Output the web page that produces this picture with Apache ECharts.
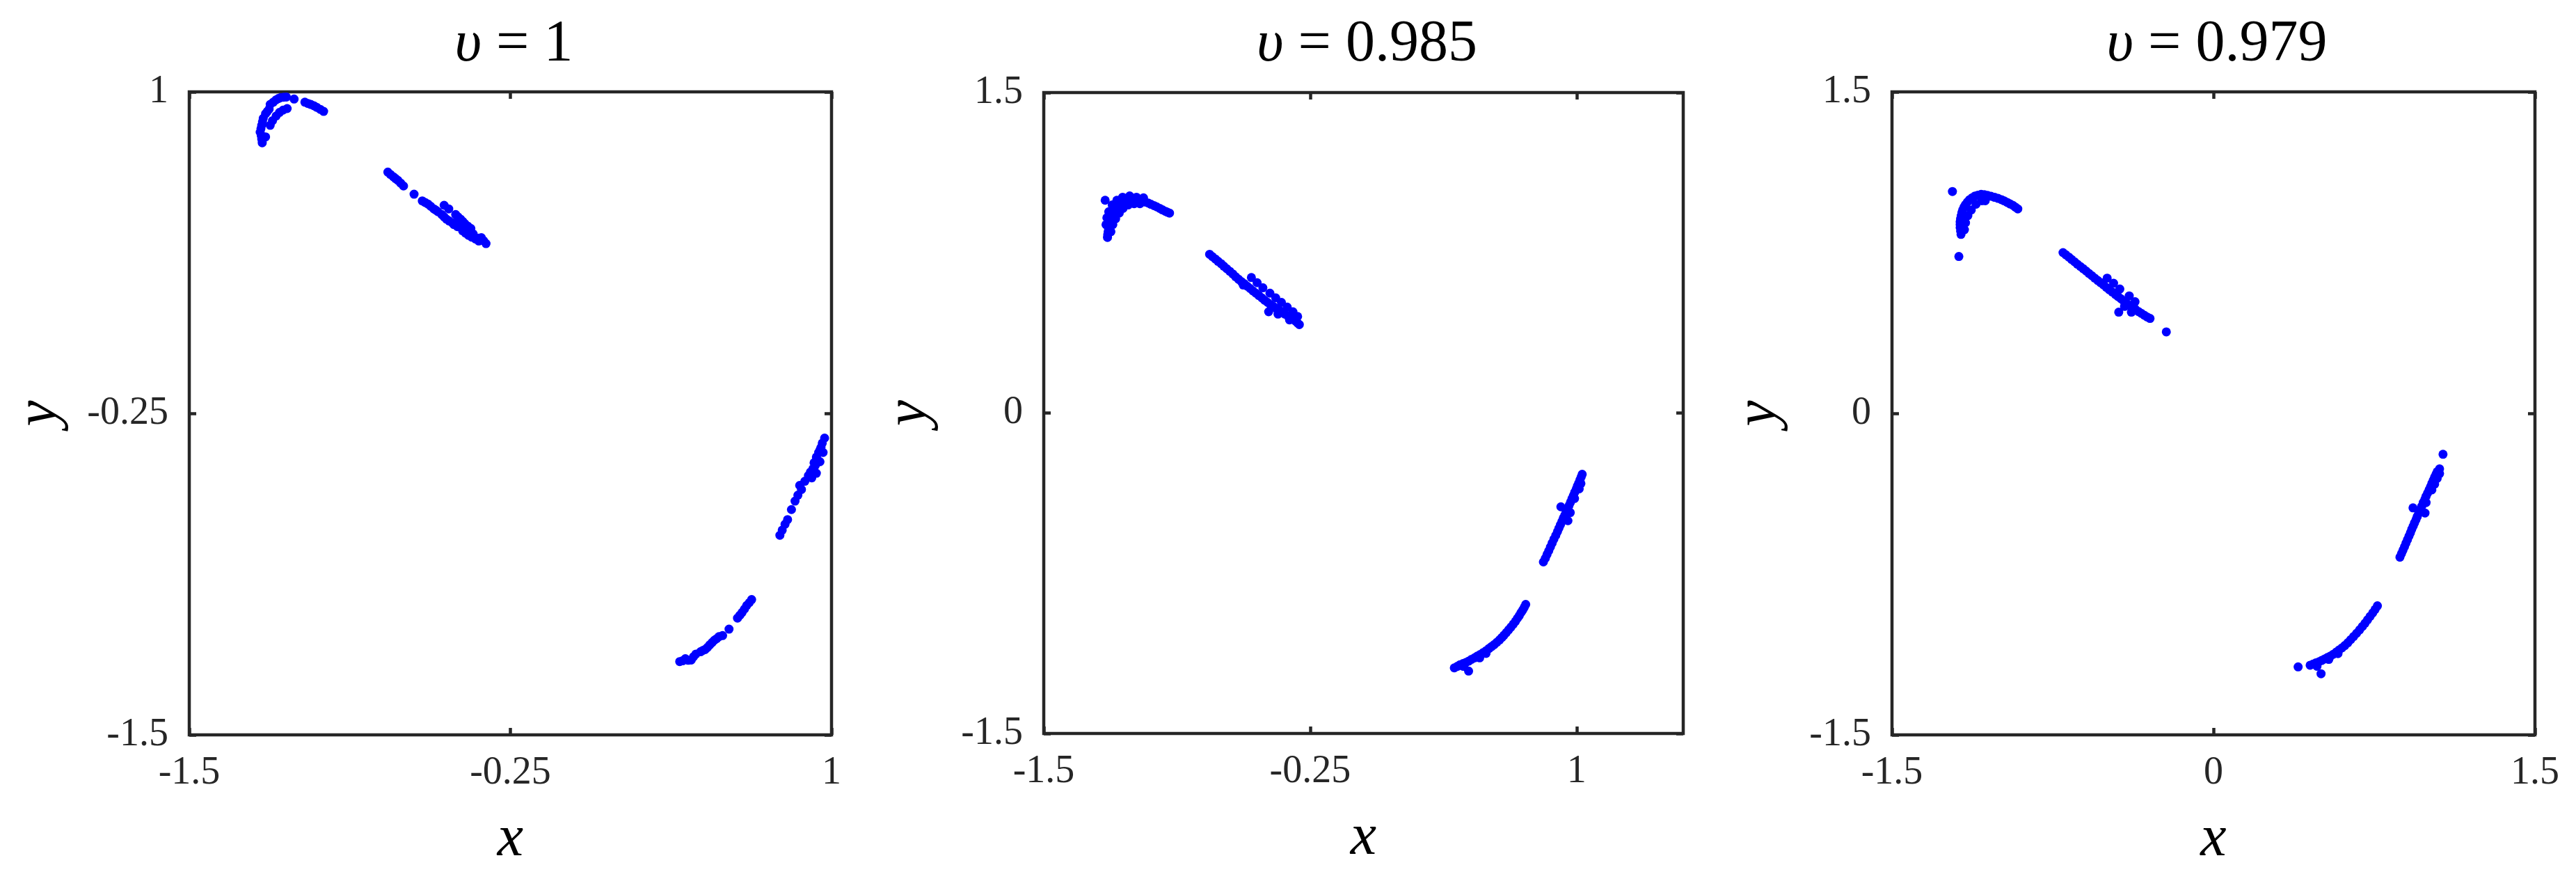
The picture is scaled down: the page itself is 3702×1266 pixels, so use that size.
<!DOCTYPE html>
<html>
<head>
<meta charset="utf-8">
<script src="https://cdn.jsdelivr.net/npm/echarts@6/dist/echarts.min.js"></script>
<style>
  html, body { margin: 0; background: #fff; }
  #chart { width: 3702px; height: 1266px; }
</style>
</head>
<body>
<div id="chart"></div>
<script>
// panel titles (upsilon values)
const titles = ['1', '0.985', '0.979']

// axis ranges and tick values per panel
const p1XTicks = [-1.5, -0.25, 1]
const p1YTicks = [-1.5, -0.25, 1]
const p2XTicks = [-1.5, -0.25, 1]
const p2YTicks = [-1.5, 0, 1.5]
const p3XTicks = [-1.5, 0, 1.5]
const p3YTicks = [-1.5, 0, 1.5]
const xRanges = [[-1.5, 1], [-1.5, 1.5], [-1.5, 1.5]]
const yRanges = [[-1.5, 1], [-1.5, 1.5], [-1.5, 1.5]]

// v = 1
const p1Cap = [
  [-1.216, 0.802], [-1.218, 0.816], [-1.220, 0.830], [-1.224, 0.843], [-1.221, 0.857], [-1.218, 0.870],
  [-1.215, 0.884], [-1.212, 0.897], [-1.203, 0.915], [-1.196, 0.924], [-1.189, 0.933], [-1.185, 0.951],
  [-1.173, 0.960], [-1.162, 0.969], [-1.153, 0.974], [-1.144, 0.978], [-1.133, 0.979], [-1.122, 0.980],
  [-1.092, 0.972], [-1.050, 0.960], [-1.038, 0.955], [-1.027, 0.951], [-1.015, 0.946], [-1.004, 0.940],
  [-0.990, 0.932], [-0.977, 0.924], [-1.203, 0.825],
  [-1.185, 0.870], [-1.176, 0.888], [-1.162, 0.906], [-1.149, 0.920], [-1.135, 0.929], [-1.119, 0.935]
]
const p1Bar = [
  [-0.727, 0.688], [-0.717, 0.679], [-0.706, 0.670], [-0.697, 0.663], [-0.688, 0.656], [-0.677, 0.645],
  [-0.666, 0.634], [-0.625, 0.602], [-0.593, 0.576], [-0.582, 0.570], [-0.571, 0.564], [-0.560, 0.555],
  [-0.548, 0.545], [-0.540, 0.540], [-0.532, 0.534], [-0.508, 0.559], [-0.490, 0.545], [-0.517, 0.523],
  [-0.508, 0.514], [-0.499, 0.505], [-0.488, 0.498], [-0.476, 0.491], [-0.470, 0.484], [-0.456, 0.476],
  [-0.463, 0.523], [-0.454, 0.514], [-0.444, 0.505], [-0.435, 0.496], [-0.427, 0.487], [-0.416, 0.478],
  [-0.404, 0.469], [-0.436, 0.460], [-0.425, 0.451], [-0.413, 0.442], [-0.400, 0.435], [-0.395, 0.448],
  [-0.386, 0.428], [-0.374, 0.431], [-0.373, 0.420], [-0.363, 0.433], [-0.354, 0.421], [-0.345, 0.410]
]
const p1Low = [
  [0.409, -1.215], [0.420, -1.212], [0.431, -1.204], [0.442, -1.210], [0.454, -1.209], [0.463, -1.196],
  [0.472, -1.186], [0.490, -1.177], [0.499, -1.172], [0.508, -1.168], [0.517, -1.160], [0.526, -1.150],
  [0.535, -1.141], [0.544, -1.132], [0.553, -1.126], [0.562, -1.118], [0.576, -1.114], [0.601, -1.089],
  [0.634, -1.046], [0.643, -1.035], [0.652, -1.024], [0.661, -1.011], [0.670, -0.997], [0.680, -0.986],
  [0.689, -0.974]
]
const p1Up = [
  [0.799, -0.724], [0.808, -0.704], [0.819, -0.681], [0.829, -0.663], [0.844, -0.624], [0.858, -0.591],
  [0.869, -0.568], [0.876, -0.530], [0.883, -0.546], [0.896, -0.514], [0.910, -0.492], [0.918, -0.478],
  [0.923, -0.501], [0.928, -0.465], [0.932, -0.442], [0.937, -0.452], [0.941, -0.483], [0.941, -0.420],
  [0.945, -0.430], [0.950, -0.402], [0.955, -0.438], [0.955, -0.392], [0.959, -0.383], [0.964, -0.366],
  [0.967, -0.402], [0.973, -0.346]
]

// v = 0.985
const p2Cap = [
  [-1.212, 0.996],
  [-1.201, 0.822], [-1.200, 0.836], [-1.198, 0.849], [-1.196, 0.863], [-1.193, 0.876], [-1.190, 0.890],
  [-1.187, 0.904], [-1.182, 0.918], [-1.176, 0.931], [-1.170, 0.945], [-1.163, 0.958], [-1.155, 0.969],
  [-1.146, 0.980], [-1.136, 0.988], [-1.125, 0.996], [-1.111, 1.001], [-1.097, 1.005], [-1.084, 1.003],
  [-1.070, 1.001], [-1.057, 0.997], [-1.043, 0.993], [-1.027, 0.988], [-1.010, 0.983], [-0.997, 0.977],
  [-0.983, 0.971], [-0.970, 0.965], [-0.956, 0.958], [-0.943, 0.951], [-0.929, 0.944], [-0.920, 0.940],
  [-0.910, 0.936],
  [-1.185, 0.849], [-1.176, 0.882], [-1.163, 0.909], [-1.146, 0.936], [-1.128, 0.958], [-1.103, 0.974],
  [-1.076, 0.980], [-1.049, 0.980],
  [-1.208, 0.882], [-1.204, 0.914], [-1.195, 0.942], [-1.179, 0.974], [-1.157, 0.996], [-1.130, 1.010],
  [-1.097, 1.016], [-1.065, 1.010], [-1.032, 1.007]
]
const p2Bar = [
  [-0.722, 0.743], [-0.709, 0.732], [-0.695, 0.721], [-0.682, 0.710], [-0.668, 0.699], [-0.655, 0.687],
  [-0.641, 0.675], [-0.627, 0.663], [-0.613, 0.651], [-0.600, 0.638], [-0.586, 0.626], [-0.573, 0.615],
  [-0.559, 0.605], [-0.546, 0.594], [-0.532, 0.583], [-0.519, 0.572], [-0.505, 0.561], [-0.491, 0.550],
  [-0.477, 0.539], [-0.464, 0.528], [-0.450, 0.518], [-0.437, 0.508], [-0.423, 0.499], [-0.410, 0.490],
  [-0.396, 0.482], [-0.383, 0.472], [-0.369, 0.463], [-0.355, 0.455], [-0.341, 0.447], [-0.330, 0.439],
  [-0.320, 0.431], [-0.310, 0.422], [-0.301, 0.414],
  [-0.526, 0.634], [-0.499, 0.610], [-0.472, 0.586], [-0.439, 0.561], [-0.412, 0.539], [-0.385, 0.518],
  [-0.358, 0.496], [-0.331, 0.474], [-0.309, 0.452],
  [-0.445, 0.474], [-0.564, 0.599], [-0.401, 0.463], [-0.347, 0.436]
]
const p2Low = [
  [0.426, -1.193], [0.440, -1.186], [0.453, -1.178], [0.467, -1.173], [0.480, -1.168], [0.494, -1.161],
  [0.507, -1.153], [0.521, -1.146], [0.534, -1.138], [0.548, -1.130], [0.562, -1.121], [0.576, -1.112],
  [0.589, -1.102], [0.601, -1.093], [0.613, -1.084], [0.626, -1.073], [0.638, -1.062], [0.649, -1.051],
  [0.659, -1.040], [0.670, -1.028], [0.681, -1.015], [0.692, -1.002], [0.703, -0.988], [0.713, -0.975],
  [0.722, -0.961], [0.731, -0.948], [0.739, -0.934], [0.747, -0.922], [0.754, -0.910], [0.761, -0.896],
  [0.469, -1.186], [0.545, -1.146], [0.575, -1.125],
  [0.493, -1.208]
]
const p2Up = [
  [0.844, -0.697], [0.853, -0.680], [0.861, -0.662], [0.869, -0.645], [0.877, -0.627], [0.885, -0.609],
  [0.893, -0.591], [0.902, -0.573], [0.910, -0.555], [0.917, -0.539], [0.924, -0.523], [0.931, -0.508],
  [0.937, -0.493], [0.944, -0.479], [0.950, -0.464], [0.957, -0.449], [0.964, -0.434], [0.971, -0.418],
  [0.978, -0.401], [0.985, -0.386], [0.991, -0.371], [0.998, -0.356], [1.004, -0.341], [1.010, -0.328],
  [1.015, -0.314], [1.021, -0.300], [1.026, -0.287],
  [0.926, -0.439], [0.959, -0.504], [0.970, -0.466], [1.012, -0.355], [1.020, -0.330], [0.990, -0.400]
]

// v = 0.979
const p3Cap = [
  [-1.218, 1.035], [-1.188, 0.732],
  [-1.178, 0.835], [-1.180, 0.851], [-1.182, 0.867], [-1.182, 0.881], [-1.182, 0.894], [-1.180, 0.908],
  [-1.177, 0.922], [-1.174, 0.936], [-1.170, 0.949], [-1.164, 0.962], [-1.157, 0.974], [-1.148, 0.986],
  [-1.138, 0.997], [-1.126, 1.006], [-1.113, 1.014], [-1.099, 1.018], [-1.084, 1.022], [-1.069, 1.020],
  [-1.054, 1.017], [-1.038, 1.013], [-1.021, 1.008], [-1.005, 1.003], [-0.989, 0.997], [-0.976, 0.991],
  [-0.962, 0.984], [-0.949, 0.977], [-0.935, 0.970], [-0.924, 0.962], [-0.913, 0.954],
  [-1.162, 0.857], [-1.157, 0.889], [-1.146, 0.922], [-1.130, 0.949], [-1.108, 0.976], [-1.081, 0.992],
  [-1.065, 0.992]
]
const p3Bar = [
  [-0.702, 0.750], [-0.689, 0.740], [-0.675, 0.729], [-0.662, 0.718], [-0.648, 0.707], [-0.635, 0.696],
  [-0.621, 0.685], [-0.608, 0.675], [-0.594, 0.664], [-0.581, 0.653], [-0.567, 0.642], [-0.554, 0.631],
  [-0.540, 0.620], [-0.527, 0.610], [-0.513, 0.599], [-0.500, 0.588], [-0.486, 0.577], [-0.472, 0.566],
  [-0.458, 0.555], [-0.445, 0.545], [-0.431, 0.534], [-0.418, 0.523], [-0.404, 0.512], [-0.391, 0.503],
  [-0.377, 0.494], [-0.364, 0.485], [-0.350, 0.475], [-0.337, 0.467], [-0.323, 0.458], [-0.310, 0.450],
  [-0.296, 0.443],
  [-0.496, 0.631], [-0.466, 0.607], [-0.437, 0.580], [-0.393, 0.548], [-0.366, 0.521], [-0.383, 0.472],
  [-0.415, 0.499],
  [-0.442, 0.472], [-0.220, 0.380]
]
const p3Low = [
  [0.451, -1.175], [0.465, -1.170], [0.478, -1.164], [0.492, -1.159], [0.505, -1.153], [0.519, -1.146],
  [0.532, -1.139], [0.546, -1.132], [0.559, -1.124], [0.573, -1.114], [0.586, -1.104], [0.600, -1.094],
  [0.613, -1.083], [0.627, -1.070], [0.640, -1.056], [0.654, -1.041], [0.668, -1.026], [0.682, -1.010],
  [0.695, -0.994], [0.707, -0.979], [0.719, -0.963], [0.731, -0.947], [0.743, -0.931], [0.754, -0.915],
  [0.765, -0.898],
  [0.483, -1.180], [0.538, -1.148], [0.581, -1.121],
  [0.395, -1.183], [0.502, -1.215]
]
const p3Up = [
  [0.870, -0.671], [0.877, -0.655], [0.884, -0.639], [0.891, -0.623], [0.898, -0.606], [0.905, -0.590],
  [0.912, -0.573], [0.919, -0.557], [0.925, -0.541], [0.932, -0.526], [0.938, -0.511], [0.945, -0.496],
  [0.951, -0.481], [0.958, -0.465], [0.965, -0.449], [0.972, -0.433], [0.979, -0.416], [0.986, -0.402],
  [0.992, -0.387], [0.999, -0.372], [1.006, -0.357], [1.013, -0.342], [1.019, -0.327], [1.026, -0.312],
  [1.032, -0.297], [1.038, -0.285], [1.044, -0.272], [1.055, -0.259],
  [1.019, -0.357], [1.032, -0.330], [1.044, -0.303], [1.055, -0.281], [0.992, -0.416],
  [0.987, -0.465], [0.931, -0.441],
  [1.071, -0.191]
]

const panelData = [
  p1Cap.concat(p1Bar, p1Low, p1Up),
  p2Cap.concat(p2Bar, p2Low, p2Up),
  p3Cap.concat(p3Bar, p3Low, p3Up)
]
const xTicks = [p1XTicks, p2XTicks, p3XTicks]
const yTicks = [p1YTicks, p2YTicks, p3YTicks]

const frameColor = '#262626'
const serif = "'Liberation Serif', 'DejaVu Serif', serif"
const grids = [
  { left: 272, top: 132, width: 923, height: 924 },
  { left: 1500, top: 133, width: 919, height: 921 },
  { left: 2719, top: 132, width: 924, height: 924 }
]
const yNameGaps = [172, 150, 148]

const chart = echarts.init(document.getElementById('chart'))

const tickStyle = (vals) => ({
  show: true,
  inside: true,
  length: 10,
  customValues: vals,
  lineStyle: { color: frameColor, width: 4.5 }
})
const noLine = { show: false, onZero: false }

const option = {
  animation: false,
  backgroundColor: '#fff',
  title: titles.map((t, i) => ({
    text: '{i|υ} = ' + t,
    left: grids[i].left + grids[i].width / 2,
    textAlign: 'center',
    top: 18,
    textStyle: {
      fontFamily: serif,
      fontSize: 84,
      fontWeight: 'normal',
      color: '#000',
      rich: { i: { fontFamily: serif, fontSize: 84, fontStyle: 'italic', color: '#000' } }
    }
  })),
  grid: grids.map((g) => ({
    ...g,
    show: true,
    borderColor: frameColor,
    borderWidth: 4.5,
    backgroundColor: 'transparent'
  })),
  xAxis: [],
  yAxis: [],
  series: []
}

for (let i = 0; i < 3; i++) {
  // bottom x axis with labels
  option.xAxis.push({
    gridIndex: i,
    type: 'value',
    position: 'bottom',
    min: xRanges[i][0],
    max: xRanges[i][1],
    axisLine: noLine,
    axisTick: tickStyle(xTicks[i]),
    splitLine: { show: false },
    axisLabel: {
      customValues: xTicks[i],
      margin: 27,
      fontFamily: serif,
      fontSize: 56,
      color: frameColor
    },
    name: 'x',
    nameLocation: 'middle',
    nameGap: 109,
    nameTextStyle: { fontFamily: serif, fontSize: 84, fontStyle: 'italic', color: '#000' }
  })
  // top x axis: ticks only
  option.xAxis.push({
    gridIndex: i,
    type: 'value',
    position: 'top',
    min: xRanges[i][0],
    max: xRanges[i][1],
    axisLine: noLine,
    axisTick: tickStyle(xTicks[i]),
    splitLine: { show: false },
    axisLabel: { show: false }
  })
  option.yAxis.push({
    gridIndex: i,
    type: 'value',
    position: 'left',
    min: yRanges[i][0],
    max: yRanges[i][1],
    axisLine: noLine,
    axisTick: tickStyle(yTicks[i]),
    splitLine: { show: false },
    axisLabel: {
      customValues: yTicks[i],
      margin: 30,
      fontFamily: serif,
      fontSize: 56,
      color: frameColor
    },
    name: 'y',
    nameLocation: 'middle',
    nameGap: yNameGaps[i],
    nameTextStyle: { fontFamily: serif, fontSize: 84, fontStyle: 'italic', color: '#000' }
  })
  option.yAxis.push({
    gridIndex: i,
    type: 'value',
    position: 'right',
    min: yRanges[i][0],
    max: yRanges[i][1],
    axisLine: noLine,
    axisTick: tickStyle(yTicks[i]),
    splitLine: { show: false },
    axisLabel: { show: false }
  })
  option.series.push({
    type: 'scatter',
    xAxisIndex: i * 2,
    yAxisIndex: i * 2,
    symbol: 'circle',
    symbolSize: 13,
    itemStyle: { color: '#0000ff', opacity: 1 },
    silent: true,
    data: panelData[i]
  })
}

chart.setOption(option)
</script>
</body>
</html>
